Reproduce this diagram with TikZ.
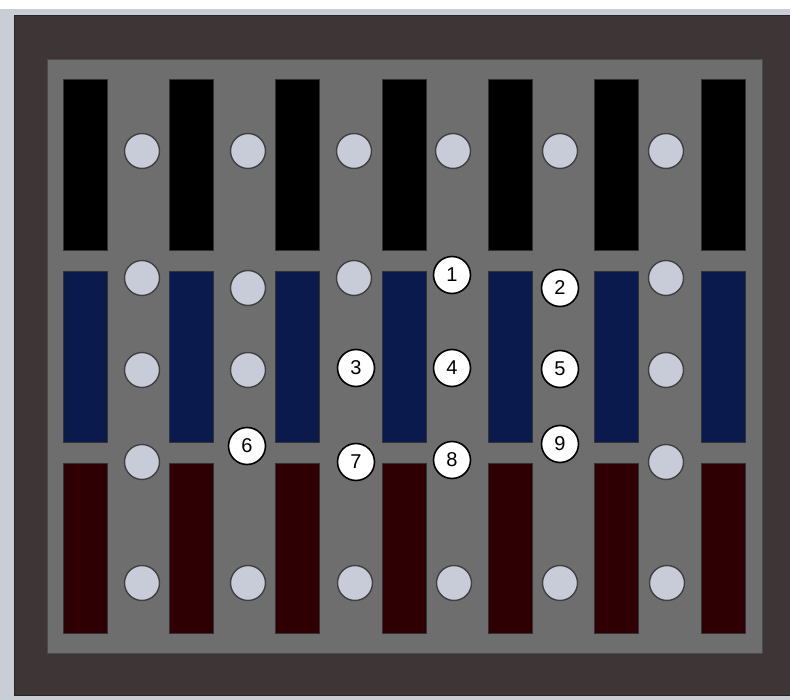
\documentclass[tikz,border=0pt]{standalone}
\usepackage{fontspec}
\setmainfont{Liberation Sans}
\definecolor{bgl}{HTML}{C9CDD6}
\definecolor{outerc}{HTML}{3E3536}
\definecolor{innerc}{HTML}{6E6E6E}
\definecolor{navy}{HTML}{0A1A4C}
\definecolor{wine}{HTML}{2E0004}
\definecolor{dotc}{HTML}{C8CCD8}
\tikzset{
  bar/.style={draw=black!80, line width=0.8pt},
  dot/.style={circle, draw=black!75, line width=1.4pt, fill=dotc, minimum size=35pt, inner sep=0pt},
  num/.style={circle, draw=black, line width=1.6pt, fill=white, minimum size=37pt, inner sep=0pt, font=\fontsize{20}{20}\selectfont},
}
\begin{document}
\begin{tikzpicture}[x=1pt,y=-1pt]
\useasboundingbox (0,0) rectangle (790,700);
\fill[white] (0,0) rectangle (790,700);
\fill[bgl] (0,9) rectangle (790,700);
\draw[fill=outerc, draw=black!85, line width=0.8pt] (14,15) rectangle (792,695);
\draw[fill=innerc, draw=black!70, line width=0.8pt] (47,59) rectangle (762,653);
\foreach \i in {0,...,6}{
  \pgfmathsetmacro{\xl}{63+106.33*\i}
  \pgfmathsetmacro{\xr}{\xl+44}
  \draw[bar, fill=black] (\xl,79) rectangle (\xr,250);
  \draw[bar, fill=navy] (\xl,271) rectangle (\xr,442);
  \draw[bar, fill=wine] (\xl,463) rectangle (\xr,633);
}
% grey dots
\node[dot] (g11) at (142,151) {};
\node[dot] (g12) at (248,151) {};
\node[dot] (g13) at (354,151) {};
\node[dot] (g14) at (453,151) {};
\node[dot] (g15) at (560,151) {};
\node[dot] (g16) at (666,151) {};
\node[dot] (g21) at (142,278) {};
\node[dot] (g22) at (248,288) {};
\node[dot] (g23) at (354,278) {};
\node[dot] (g26) at (666,278) {};
\node[dot] (g31) at (142,370) {};
\node[dot] (g32) at (248,370) {};
\node[dot] (g36) at (666,370) {};
\node[dot] (g41) at (142,462) {};
\node[dot] (g46) at (666,462) {};
\node[dot] (g51) at (142,583) {};
\node[dot] (g52) at (248,583) {};
\node[dot] (g53) at (355,583) {};
\node[dot] (g54) at (454,583) {};
\node[dot] (g55) at (560,583) {};
\node[dot] (g56) at (667,583) {};
% numbered
\node[num] (n1) at (452,275) {1};
\node[num] (n2) at (560,288) {2};
\node[num] (n3) at (356,368) {3};
\node[num] (n4) at (452,368) {4};
\node[num] (n5) at (560,369) {5};
\node[num] (n6) at (247,446) {6};
\node[num] (n7) at (356,462) {7};
\node[num] (n8) at (452,460) {8};
\node[num] (n9) at (560,444) {9};
\end{tikzpicture}
\end{document}
